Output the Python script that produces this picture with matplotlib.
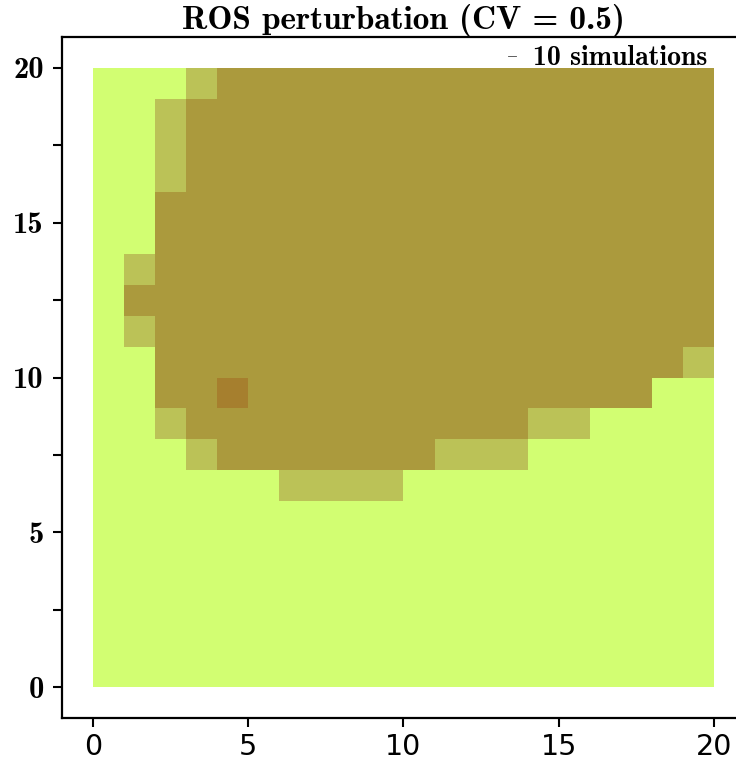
import numpy as np
import matplotlib
matplotlib.use("Agg")
import matplotlib.pyplot as plt
from matplotlib.colors import ListedColormap
from matplotlib.lines import Line2D
from matplotlib.ticker import MultipleLocator

# Burn map over a 20x20 landscape, top row (y=19) first.
# '.' unburned, '+' burned in some runs, '#' burned in every run, 'o' ignition cell
burn_rows = [
    "...+################",
    "..+#################",
    "..+#################",
    "..+#################",
    "..##################",
    "..##################",
    ".+##################",
    ".###################",
    ".+##################",
    "..#################+",
    "..##o#############..",
    "..+###########++....",
    "...+#######+++......",
    "......++++..........",
    "....................",
    "....................",
    "....................",
    "....................",
    "....................",
    "....................",
]
state_codes = {".": 0, "+": 1, "#": 2, "o": 3}
state_colors = ["#d2fe72", "#bbc257", "#ab9a3d", "#a67f2e"]
n_sims = 10
title = "ROS perturbation (CV = 0.5)"

grid = np.array([[state_codes[c] for c in row] for row in burn_rows[::-1]])
ny, nx = grid.shape

fig = plt.figure(figsize=(7.36, 7.62), dpi=100)
ax = fig.add_axes([0.0842, 0.0577, 0.928, 0.8937])

ax.pcolormesh(np.arange(nx + 1), np.arange(ny + 1), grid,
              cmap=ListedColormap(state_colors), vmin=-0.5, vmax=3.5)

ax.set_xlim(-1, 21)
ax.set_ylim(-1, 21)
ax.set_xticks(np.arange(0, 21, 5))
ax.set_yticks(np.arange(0, 21, 5))
ax.yaxis.set_minor_locator(MultipleLocator(2.5))

for side in ["left", "bottom", "top"]:
    ax.spines[side].set_linewidth(1.6)
ax.spines["right"].set_visible(False)

ax.tick_params(axis="both", which="both", length=6.5, width=1.5, direction="out")
ax.tick_params(axis="y", labelsize=22, pad=6.5)
ax.tick_params(axis="x", labelsize=20.5, pad=4)
for lab in ax.get_yticklabels():
    lab.set_family("cmb10")
for lab in ax.get_xticklabels():
    lab.set_family("DejaVu Sans")

ax.set_title(title, fontsize=24, family="cmb10", pad=3)

handle = Line2D([], [], color="#444444", lw=0.6)
leg = ax.legend([handle], [f"{n_sims} simulations"], loc="upper right",
                bbox_to_anchor=(0.961, 1.004), borderaxespad=0, frameon=False,
                handlelength=0.3, handletextpad=0.6,
                prop={"family": "cmb10", "size": 20})

fig.savefig("out.png", dpi=100)
